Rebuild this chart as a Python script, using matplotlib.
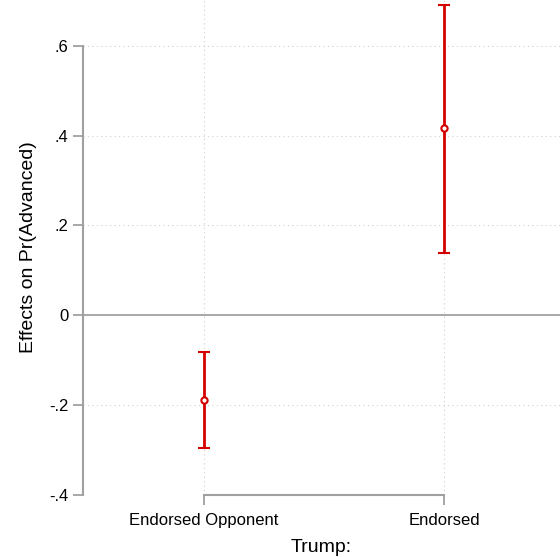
import matplotlib.pyplot as plt

plt.rcParams['font.family'] = ['Liberation Sans', 'DejaVu Sans']

# effects on Pr(Advanced) by Trump endorsement status
categories = ['Endorsed Opponent', 'Endorsed']
effect = [-0.189, 0.416]
ci_low = [-0.296, 0.138]
ci_high = [-0.082, 0.691]
yticks = [-0.4, -0.2, 0, 0.2, 0.4, 0.6]
ytick_labels = ['-.4', '-.2', '0', '.2', '.4', '.6']

xpos = list(range(1, len(categories) + 1))
red = '#d40000'
gray = '#a0a0a0'

fig = plt.figure(figsize=(5.6, 5.57), dpi=100)
ax = fig.add_axes([83 / 560, 62 / 557, 477 / 560, 495 / 557])

# grid
for y in yticks:
    if y != 0:
        ax.axhline(y, color='#d0d0d0', lw=0.8, ls=(0, (1, 3)), zorder=0)
for x in xpos:
    ax.axvline(x, color='#d0d0d0', lw=0.8, ls=(0, (1, 3)), zorder=0)
ax.axhline(0, color=gray, lw=1.3, zorder=1)

yerr = [[e - lo for e, lo in zip(effect, ci_low)],
        [hi - e for e, hi in zip(effect, ci_high)]]
ax.errorbar(xpos, effect, yerr=yerr, fmt='o', color=red, ecolor=red,
            elinewidth=2, capsize=4.5, capthick=1.8, markersize=4.5,
            markerfacecolor='white', markeredgecolor=red, markeredgewidth=1.5,
            zorder=3)

ax.set_xlim(0.496, 2.483)
ax.set_ylim(-0.4, 0.702)

ax.set_yticks(yticks)
ax.set_yticklabels(ytick_labels)
ax.set_xticks(xpos)
ax.set_xticklabels(categories)
ax.tick_params(axis='both', colors=gray, labelcolor='black', labelsize=12,
               length=7, width=1.3)
ax.tick_params(axis='x', pad=6)

for s in ['top', 'right']:
    ax.spines[s].set_visible(False)
ax.spines['left'].set_bounds(-0.4, 0.6)
ax.spines['bottom'].set_bounds(xpos[0], xpos[-1])
for s in ['left', 'bottom']:
    ax.spines[s].set_color(gray)
    ax.spines[s].set_linewidth(1.5)

ax.set_ylabel('Effects on Pr(Advanced)', fontsize=14, labelpad=9)
ax.set_xlabel('Trump:', fontsize=14, labelpad=8)

fig.savefig('out.png', dpi=100)
